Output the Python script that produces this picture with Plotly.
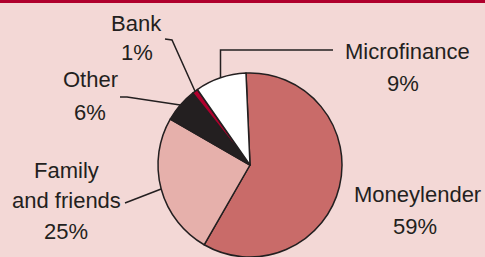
import math
import plotly.graph_objects as go

# ---- data ----
categories = ["Moneylender", "Family and friends", "Other", "Bank", "Microfinance"]
shares = [59, 25, 6, 1, 9]
pct_labels = ["59%", "25%", "6%", "1%", "9%"]
name_lines = [["Moneylender"], ["Family", "and friends"], ["Other"], ["Bank"], ["Microfinance"]]

# ---- style / layout ----
W, H = 485, 257
BG = "#f3d8d6"
colors = ["#c96b69", "#e6b0ab", "#231f20", "#b0002d", "#ffffff"]
TXT = "#231f20"
FS = 22
CX, CY, R = 250, 165, 92   # pie centre / radius in px (y from top)
ROT = -2.5

def px(x, y):
    return x / W, 1 - y / H

def edge_point(idx):
    total = sum(shares)
    start = sum(shares[:idx])
    mid = (start + shares[idx] / 2) / total * 360 + ROT
    a = math.radians(mid)
    return CX + R * math.sin(a), CY - R * math.cos(a)

fig = go.Figure(go.Pie(
    labels=categories, values=shares, sort=False, direction="clockwise",
    rotation=ROT, textinfo="none", hoverinfo="none", showlegend=False,
    marker=dict(colors=colors, line=dict(color=TXT, width=1.5)),
    domain=dict(x=[(CX - R) / W, (CX + R) / W], y=[(H - CY - R) / H, (H - CY + R) / H]),
))

# label placement: (centre x, [centre y of each name line], pct centre x, pct centre y)
label_pos = {
    0: (417, [194], 415, 226),
    1: (66, [170, 200], 66, 231),
    2: (90, [79], 90, 112),
    3: (136, [23], 137, 53),
    4: (407, [52], 403, 84),
}
FONT = dict(family="Liberation Sans, Arial", size=FS, color=TXT)
anns = []
for i, (lx, lys, pxx, pyy) in label_pos.items():
    for line, ly in zip(name_lines[i], lys):
        x, y = px(lx, ly)
        anns.append(dict(x=x, y=y, xref="paper", yref="paper", text=line, showarrow=False,
                         xanchor="center", yanchor="middle", font=FONT))
    x, y = px(pxx, pyy)
    anns.append(dict(x=x, y=y, xref="paper", yref="paper", text=pct_labels[i], showarrow=False,
                     xanchor="center", yanchor="middle", font=FONT))

# leader lines: label-side points, then slice edge computed from data
leaders = {
    1: [(125, 203)],
    2: [(120, 97), (127, 97)],
    3: [(165, 39), (172, 40)],
    4: [(333, 50), "corner"],
}
shapes = []
for i, pts in leaders.items():
    ex, ey = edge_point(i)
    coords = []
    for p in pts:
        if p == "corner":
            coords.append((ex, pts[0][1]))
        else:
            coords.append(p)
    coords.append((ex, ey))
    path = ""
    for k, (x, y) in enumerate(coords):
        xx, yy = px(x, y)
        path += ("M" if k == 0 else "L") + f"{xx},{yy} "
    shapes.append(dict(type="path", path=path.strip(), xref="paper", yref="paper",
                       line=dict(color=TXT, width=1.5)))

# top rule
shapes.append(dict(type="rect", xref="paper", yref="paper", x0=0, x1=1, y0=1 - 3 / H, y1=1,
                   fillcolor="#b0002d", line=dict(width=0)))

fig.update_layout(
    width=W, height=H, margin=dict(l=0, r=0, t=0, b=0),
    paper_bgcolor=BG, plot_bgcolor=BG,
    annotations=anns, shapes=shapes,
)
fig.write_html("out.html", config={"displayModeBar": False},
               post_script="document.body.style.margin='0';document.body.style.overflow='hidden';")
